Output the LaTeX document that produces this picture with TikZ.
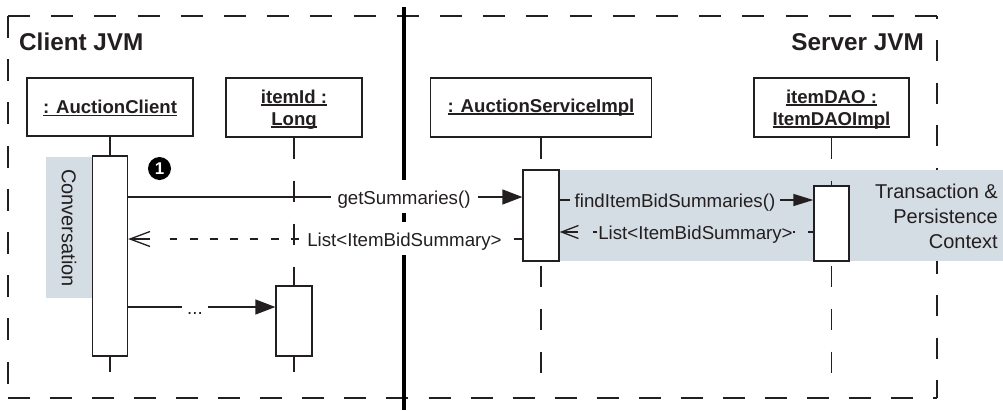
\documentclass[tikz,border=0pt]{standalone}
\usepackage{fontspec}
\setmainfont{Liberation Sans}
\usetikzlibrary{arrows.meta}
\definecolor{ink}{RGB}{35,31,32}
\definecolor{ctxshade}{RGB}{213,221,228}
\newcommand\ulx[1]{\setbox0\hbox{#1}\rlap{\smash{\rule[-2.3pt]{\wd0}{1.3pt}}}\box0}
\begin{document}
\begin{tikzpicture}[x=1pt,y=-1pt,
  objbox/.style={draw=ink, line width=1.3pt, fill=white, inner sep=0pt, text=ink,
    font=\fontsize{18.6}{22}\selectfont\bfseries, align=center},
  actbar/.style={draw=ink, line width=1.3pt, fill=white, inner sep=0pt},
  life/.style={draw=ink, line width=1.2pt},
  lifedash/.style={life, dash pattern=on 21.5pt off 21.5pt},
  framedash/.style={draw=ink, line width=1.5pt, dash pattern=on 22pt off 21.2pt},
  msg/.style={draw=ink, line width=1.3pt},
  call/.style={msg, -{Triangle[length=20pt,width=15pt]}},
  retline/.style={msg, dash pattern=on 8pt off 12.3pt},
  rettip/.style={msg, -{Straight Barb[length=20pt,width=15pt]}},
  lbl/.style={text=ink, font=\fontsize{18.7}{22}\selectfont, anchor=base,
    text height=20pt, text depth=5pt, inner ysep=4pt, inner xsep=6pt},
  title/.style={text=ink, inner sep=0pt, font=\fontsize{24.3}{28}\selectfont\bfseries},
  note/.style={text=ink, font=\fontsize{20}{25}\selectfont}
]
\useasboundingbox (0,0) rectangle (1003,410);
\fill[white] (0,0) rectangle (1003,410);

% outer frame
\coordinate (f1) at (8,16);
\coordinate (f2) at (937,16);
\coordinate (f3) at (937,398);
\coordinate (f4) at (8,398);
\draw[framedash] (f1) -- (f2);
\draw[framedash] (f1) -- (f4);
\draw[framedash, dash pattern=on 22pt off 20.05pt] (f4) -- (f3);
\draw[framedash, dash pattern=on 21pt off 21.5pt, dash phase=18.5pt] (f2) -- (f3);

% shaded regions
\fill[ctxshade] (46,157) rectangle (92,298);
\fill[ctxshade] (559,170) rectangle (1003,261);

% titles
\node[title, anchor=base west] (cjvm) at (19,50) {Client JVM};
\node[title, anchor=base east] (sjvm) at (924,50) {Server JVM};

% object boxes
\node[objbox, minimum width=166, minimum height=58] (ac) at (110,107) {\ulx{: AuctionClient}};
\node[objbox, minimum width=136, minimum height=59] (iid) at (294,107.5) {\rule{0pt}{17.6pt}\ulx{itemId :}\\\ulx{Long}};
\node[objbox, minimum width=221, minimum height=59] (asi) at (541,107.5) {\ulx{: AuctionServiceImpl}};
\node[objbox, minimum width=155, minimum height=59] (dao) at (831.5,107.5) {\rule{0pt}{17.6pt}\ulx{itemDAO :}\\\ulx{ItemDAOImpl}};

% activation bars
\node[actbar, minimum width=35, minimum height=200] (acbar) at (110,256) {};
\node[actbar, minimum width=36, minimum height=70] (iidbar) at (294,321) {};
\node[actbar, minimum width=36, minimum height=91] (asibar) at (541,215.5) {};
\node[actbar, minimum width=35, minimum height=75] (daobar) at (831.5,223.5) {};

% lifelines
\coordinate (acend) at (110,372);
\coordinate (iidend) at (294,372);
\coordinate (asiend) at (541,373);
\coordinate (daoend) at (831.5,373);
\draw[life] (ac.south) -- (acbar.north);
\draw[life] (acbar.south) -- (acend);
\draw[lifedash] (iid.south) -- (iidbar.north);
\draw[life] (iidbar.south) -- (iidend);
\draw[lifedash] (asi.south) -- (asibar.north);
\draw[lifedash, dash phase=39pt] (asibar.south) -- (asiend);
\draw[lifedash] (dao.south) -- (daobar.north);
\draw[lifedash, dash phase=39pt] (daobar.south) -- (daoend);

% JVM boundary
\coordinate (dtop) at (404,7);
\coordinate (dbot) at (404,410);
\draw[line width=4.5pt, black] (dtop) -- (dbot);

% messages
\coordinate (m1) at (0,197);
\coordinate (m2) at (0,239);
\coordinate (m3) at (0,200);
\coordinate (m4) at (0,232);
\coordinate (m5) at (0,307);
\coordinate (r1a) at (170,239);
\coordinate (r1b) at (150,239);
\coordinate (r2a) at (593,232);
\coordinate (r2b) at (578,232);
\draw[call] (acbar.east |- m1) -- (asibar.west |- m1);
\draw[retline] (asibar.west |- m2) -- (r1a);
\draw[rettip] (r1b) -- (acbar.east |- m2);
\draw[msg, -{Triangle[length=20pt,width=12pt]}] (asibar.east |- m3) -- (daobar.west |- m3);
\draw[msg, dash pattern=on 5pt off 13pt] (daobar.west |- m4) -- (r2a);
\draw[msg, -{Straight Barb[length=17pt,width=13pt]}] (r2b) -- (asibar.east |- m4);
\draw[call] (acbar.east |- m5) -- (iidbar.west |- m5);

% message labels
\node[lbl, fill=white, inner xsep=7pt] (lget) at (404,204) {getSummaries()};
\node[lbl, fill=white, inner xsep=4pt] (lret) at (404.5,246) {List<ItemBidSummary>};
\node[lbl, fill=ctxshade, inner xsep=5pt] (lfind) at (675,207) {findItemBidSummaries()};
\node[lbl, fill=ctxshade, inner xsep=0pt] (lret2) at (695.5,239) {List<ItemBidSummary>};
\node[lbl, fill=white, inner xsep=5pt] (ldots) at (195,314) {...};

% notes
\node[note, rotate=-90] (conv) at (69,228) {Conversation};
\node[note, anchor=east, align=right, inner sep=0pt] (txn) at (998,216) {Transaction \&\\Persistence\\Context};
\node[circle, fill=black, minimum size=23pt, inner sep=0pt, text=white,
  font=\fontsize{17}{17}\selectfont\bfseries] (n1) at (159.5,168.5) {1};
\end{tikzpicture}
\end{document}
